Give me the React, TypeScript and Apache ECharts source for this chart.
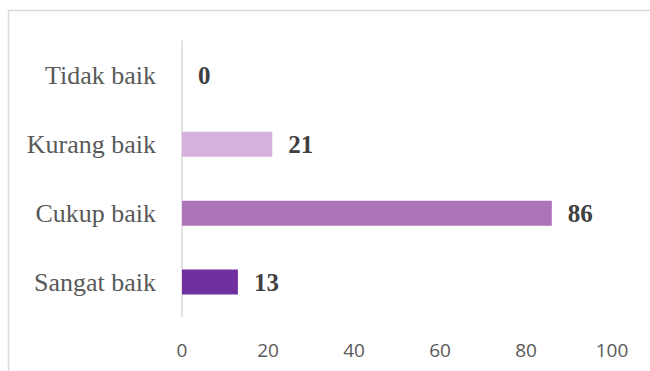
import React, { useEffect, useRef } from "react";
import * as echarts from "echarts";

const categories = ["Sangat baik", "Cukup baik", "Kurang baik", "Tidak baik"];
const values = [13, 86, 21, 0];
const barColors = ["#7030A0", "#AC73B9", "#D4B2DC", "#E6D5EA"];
const xTicks = [0, 20, 40, 60, 80, 100];

export default function App() {
  const ref = useRef<HTMLDivElement>(null);
  useEffect(() => {
    if (!ref.current) return;
    const chart = echarts.init(ref.current, undefined, { renderer: "svg" });
    chart.setOption({
      animation: false,
      backgroundColor: "#ffffff",
      graphic: [
        {
          type: "rect",
          shape: { x: 8.5, y: 10.5, width: 700, height: 400 },
          style: { fill: "none", stroke: "#d9d9d9", lineWidth: 1.5 },
          silent: true,
          z: -1,
        },
      ],
      grid: { left: 182, right: 38, top: 41, bottom: 54.5 },
      xAxis: {
        type: "value",
        min: xTicks[0],
        max: xTicks[xTicks.length - 1],
        interval: 20,
        splitLine: { show: false },
        axisLine: { show: false },
        axisTick: { show: false },
        axisLabel: {
          color: "#595959",
          fontFamily: "Open Sans",
          fontSize: 19,
          margin: 24,
        },
      },
      yAxis: {
        type: "category",
        data: categories,
        axisLine: { show: true, lineStyle: { color: "#d9d9d9", width: 1.5 } },
        axisTick: { show: false },
        axisLabel: {
          color: "#595959",
          fontFamily: "Liberation Serif",
          fontSize: 26,
          margin: 26,
        },
      },
      series: [
        {
          type: "bar",
          data: values.map((v, i) => ({ value: v, itemStyle: { color: barColors[i] } })),
          barWidth: 25,
          label: {
            show: true,
            position: "right",
            distance: 16,
            color: "#404040",
            fontFamily: "Liberation Serif",
            fontWeight: "bold",
            fontSize: 25,
          },
        },
      ],
    });
    return () => chart.dispose();
  }, []);
  return (
    <div
      ref={ref}
      style={{ position: "absolute", left: 0, top: 0, width: 650, height: 371 }}
    />
  );
}
